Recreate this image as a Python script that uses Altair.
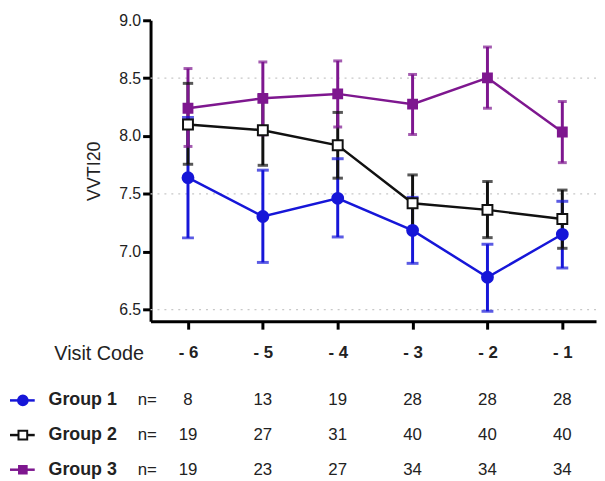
import altair as alt
import pandas as pd

visits = [-6, -5, -4, -3, -2, -1]
groups = ["Group 1", "Group 2", "Group 3"]
colors = ["#1616d8", "#111111", "#7e178f"]

g1_mean = [7.64, 7.305, 7.462, 7.185, 6.78, 7.151]
g1_lo = [7.12, 6.908, 7.128, 6.90, 6.486, 6.86]
g1_hi = [8.16, 7.705, 7.804, 7.47, 7.065, 7.436]

g2_mean = [8.10, 8.05, 7.92, 7.419, 7.362, 7.283]
g2_lo = [7.756, 7.747, 7.636, 7.17, 7.122, 7.03]
g2_hi = [8.455, 8.35, 8.204, 7.664, 7.607, 7.533]

g3_mean = [8.24, 8.326, 8.364, 8.275, 8.503, 8.035]
g3_lo = [7.91, 8.01, 8.078, 8.013, 8.24, 7.77]
g3_hi = [8.583, 8.64, 8.649, 8.532, 8.769, 8.298]

n1 = [8, 13, 19, 28, 28, 28]
n2 = [19, 27, 31, 40, 40, 40]
n3 = [19, 23, 27, 34, 34, 34]

y_ticks = [6.5, 7.0, 7.5, 8.0, 8.5, 9.0]
grid_values = [6.5, 7.5, 8.5]

FONT = "Liberation Sans"

rows = []
for g, m, lo, hi, n in zip(groups, [g1_mean, g2_mean, g3_mean], [g1_lo, g2_lo, g3_lo],
                           [g1_hi, g2_hi, g3_hi], [n1, n2, n3]):
    for i, v in enumerate(visits):
        rows.append({"group": g, "visit": v, "mean": m[i], "lo": lo[i], "hi": hi[i], "n": n[i]})
df = pd.DataFrame(rows)
df_groups = pd.DataFrame({"group": groups})
df_grid = pd.DataFrame({"g": grid_values})

x_scale = alt.Scale(domain=[-6.5, -0.55], nice=False, zero=False)
y_scale = alt.Scale(domain=[6.4, 9.0], nice=False, zero=False)
color_scale = alt.Scale(domain=groups, range=colors)

x_enc = alt.X("visit:Q", scale=x_scale, axis=alt.Axis(
    values=visits, labelExpr="'- ' + abs(datum.value)", title="Visit Code",
    titleX=-7, titleY=33, titleAlign="right", titleBaseline="middle",
    titleFont=FONT, titleFontSize=20, titleFontWeight="normal", titleColor="#222",
    labelFont=FONT, labelFontSize=17, labelFontWeight="bold", labelColor="#222",
    labelPadding=16, grid=False))

y_axis = alt.Axis(values=y_ticks, format=".1f", title="VVTI20", grid=False,
                  titleFont=FONT, titleFontSize=18, titleFontWeight="normal", titleColor="#222",
                  titlePadding=15, labelFont=FONT, labelFontSize=16, labelColor="#222",
                  labelPadding=2)

base = alt.Chart(df)

grid = alt.Chart(df_grid).mark_rule(color="#c8c8c8", strokeDash=[2, 5], strokeWidth=1.2).encode(
    y=alt.Y("g:Q", scale=y_scale, axis=y_axis)
)

err = base.mark_rule(strokeWidth=3).encode(
    x=x_enc,
    y=alt.Y("lo:Q", scale=y_scale, axis=y_axis),
    y2="hi:Q",
    color=alt.Color("group:N", scale=color_scale, legend=None),
)

cap_scale = alt.Scale(domain=groups, range=[12, 9, 9])
caps_lo = base.mark_tick(orient="horizontal", thickness=3).encode(
    x="visit:Q", y="lo:Q",
    size=alt.Size("group:N", scale=cap_scale, legend=None),
    color=alt.Color("group:N", scale=color_scale, legend=None),
)
caps_hi = base.mark_tick(orient="horizontal", thickness=3).encode(
    x="visit:Q", y="hi:Q",
    size=alt.Size("group:N", scale=cap_scale, legend=None),
    color=alt.Color("group:N", scale=color_scale, legend=None),
)
caps = alt.layer(caps_lo, caps_hi)

lines = base.mark_line(strokeWidth=2.5).encode(
    x="visit:Q", y="mean:Q",
    color=alt.Color("group:N", scale=color_scale, legend=None),
    detail="group:N",
)

shape_scale = alt.Scale(domain=groups, range=["circle", "square", "square"])
fill_scale = alt.Scale(domain=groups, range=[colors[0], "#ffffff", colors[2]])
size_scale = alt.Scale(domain=groups, range=[120, 80, 100])

points = base.mark_point(filled=True, strokeWidth=2, opacity=1).encode(
    x="visit:Q", y="mean:Q",
    shape=alt.Shape("group:N", scale=shape_scale, legend=None),
    fill=alt.Fill("group:N", scale=fill_scale, legend=None),
    stroke=alt.Stroke("group:N", scale=color_scale, legend=None),
    size=alt.Size("group:N", scale=size_scale, legend=None),
)

main = alt.layer(grid, err, caps, lines, points).resolve_scale(size="independent")

row_y = alt.Y("group:N", scale=alt.Scale(type="point", domain=groups, range=[384, 454], padding=0), axis=None)

n_text = alt.Chart(df).mark_text(font=FONT, fontSize=17, color="#222", baseline="middle", align="center").encode(
    x="visit:Q", y=row_y, text="n:Q"
)
g_text = alt.Chart(df_groups).mark_text(font=FONT, fontSize=18, fontWeight="bold", color="#222",
                                        baseline="middle", align="left").encode(
    x=alt.value(-103), y=row_y, text="group:N"
)
neq_text = alt.Chart(df_groups).mark_text(font=FONT, fontSize=17, color="#222",
                                          baseline="middle", align="left", text="n=").encode(
    x=alt.value(-13), y=row_y
)
sym_line = alt.Chart(df_groups).mark_rule(strokeWidth=2.5).encode(
    x=alt.value(-142), x2=alt.value(-117), y=row_y,
    color=alt.Color("group:N", scale=color_scale, legend=None),
)
sym_pt = alt.Chart(df_groups).mark_point(filled=True, strokeWidth=2, opacity=1).encode(
    x=alt.value(-129), y=row_y,
    shape=alt.Shape("group:N", scale=shape_scale, legend=None),
    fill=alt.Fill("group:N", scale=fill_scale, legend=None),
    stroke=alt.Stroke("group:N", scale=color_scale, legend=None),
    size=alt.Size("group:N", scale=alt.Scale(domain=groups, range=[95, 60, 85]), legend=None),
)

table = alt.layer(sym_line, sym_pt, g_text, neq_text, n_text)

chart = alt.layer(main, table).resolve_scale(
    y="independent", size="independent"
).properties(
    width=450, height=304,
    padding={"left": 0, "top": 2, "right": 0, "bottom": 0},
    background="white",
).configure_view(stroke=None).configure_axis(
    domainColor="#000", domainWidth=3, tickColor="#000", tickWidth=3, tickSize=8,
)

chart.save("out.html", embed_options={"renderer": "svg", "actions": False})
